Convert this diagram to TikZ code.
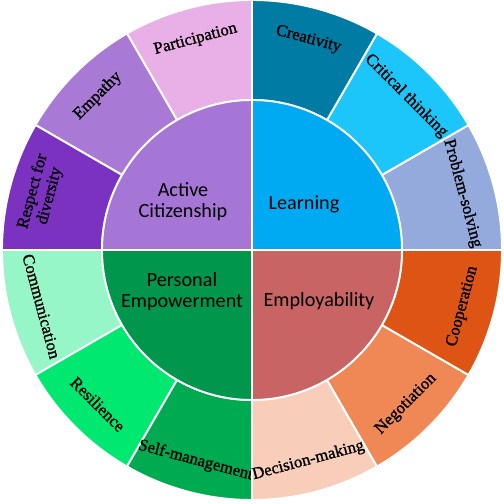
\documentclass[tikz,border=0pt]{standalone}
\usepackage{fontspec}
\setmainfont{Liberation Serif}
\newfontfamily\skillfont[FakeBold=1.2]{Liberation Serif}
\newfontfamily\hubfont{Carlito}
\definecolor{citin}{RGB}{166,118,214}
\definecolor{partic}{RGB}{232,176,230}
\definecolor{empath}{RGB}{168,122,214}
\definecolor{respec}{RGB}{124,50,192}
\definecolor{learnin}{RGB}{0,170,242}
\definecolor{creat}{RGB}{0,124,164}
\definecolor{critic}{RGB}{28,198,250}
\definecolor{probl}{RGB}{148,170,220}
\definecolor{emplin}{RGB}{200,100,100}
\definecolor{coop}{RGB}{222,84,20}
\definecolor{negot}{RGB}{240,136,86}
\definecolor{decis}{RGB}{248,206,186}
\definecolor{persin}{RGB}{0,150,76}
\definecolor{commu}{RGB}{150,246,200}
\definecolor{resil}{RGB}{0,232,112}
\definecolor{selfm}{RGB}{0,170,80}
\tikzset{
  seg/.style={draw=white,line width=1.1pt},
  hub/.style={font=\hubfont\fontsize{11.5}{12}\selectfont,align=center},
  skill/.style={font=\skillfont\fontsize{9.5}{10}\selectfont,align=center}
}
\begin{document}
\begin{tikzpicture}[x=0.02cm,y=0.02cm]
  \useasboundingbox (-252,-254) rectangle (252,250);
  % outer ring, 30 degrees per skill
  \foreach \a/\col/\name/\txt in {
      0/probl/probsolv/Problem-solving,
      30/critic/critthink/Critical thinking,
      60/creat/creativ/Creativity,
      90/partic/particip/Participation,
      120/empath/empathy/Empathy,
      150/respec/respect/Respect for\\diversity,
      180/commu/communic/Communication,
      210/resil/resilien/Resilience,
      240/selfm/selfmgmt/Self-management,
      270/decis/decision/Decision-making,
      300/negot/negotiat/Negotiation,
      330/coop/cooperat/Cooperation} {
    \pgfmathsetmacro{\b}{\a+30}
    \pgfmathsetmacro{\m}{\a+15}
    \pgfmathsetmacro{\rot}{\m<180 ? \m-90 : \m+90}
    \fill[\col,seg] (\a:150) -- (\a:250)
      arc[start angle=\a,end angle=\b,radius=250] -- (\b:150)
      arc[start angle=\b,end angle=\a,radius=150] -- cycle;
    \node[skill,rotate=\rot] (\name) at (\m:218) {\txt};
  }
  % inner quadrants
  \foreach \a/\col/\name/\txt/\p in {
      0/learnin/learn/Learning/{(52,46)},
      90/citin/citiz/Active\\Citizenship/{(-69,48)},
      180/persin/persemp/Personal\\Empowerment/{(-70,-42)},
      270/emplin/employ/Employability/{(67,-51)}} {
    \pgfmathsetmacro{\b}{\a+90}
    \fill[\col,seg] (0,0) -- (\a:150)
      arc[start angle=\a,end angle=\b,radius=150] -- cycle;
    \node[hub] (\name) at \p {\txt};
  }
\end{tikzpicture}
\end{document}
